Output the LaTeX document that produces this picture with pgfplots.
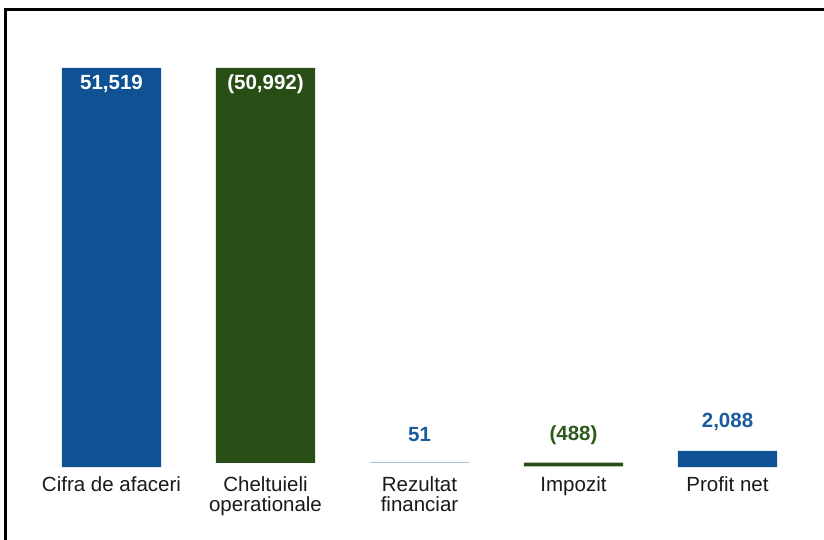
\documentclass[border=0pt]{standalone}
\usepackage{pgfplots}
\pgfplotsset{compat=1.18}
\usepackage{fontspec}
\setmainfont{Liberation Sans}
\definecolor{bluebar}{HTML}{0E5294}
\definecolor{greenbar}{HTML}{284E16}
\definecolor{bluetxt}{HTML}{1A5C9E}
\definecolor{greentxt}{HTML}{2E5A1C}
\pgfplotsset{
    wf base/.style={
        scale only axis,
        width=770pt, height=399pt,
        at={(34.5pt,72pt)}, anchor=south west,
        xmin=-0.5, xmax=4.5,
        ymin=0, ymax=51519,
        enlargelimits=false,
        clip=false,
    },
    val/.style={
        only marks, mark=*, mark size=0pt,
        nodes near coords,
        point meta=explicit symbolic,
        every node near coord/.append style={anchor=center, yshift=0pt,
            font=\fontsize{20.5}{21}\selectfont\bfseries, text=#1},
    },
}
\begin{document}
\begin{tikzpicture}[x=1pt, y=1pt]
\useasboundingbox (0,0) rectangle (824,539);
\draw[line width=2.8pt, black] (5.5,-5) -- (5.5,529.5) -- (830,529.5);

% bars: invisible base, then blue and green parts
\begin{axis}[
    wf base,
    ybar stacked,
    bar width=0.643,
    axis x line=bottom,
    axis y line=none,
    x axis line style={draw=none},
    major tick length=0pt,
    xtick={0,1,2,3,4},
    xticklabels={Cifra de afaceri, {Cheltuieli\\operationale}, {Rezultat\\financiar}, Impozit, Profit net},
    xticklabel style={align=center, font=\fontsize{20.5}{20.5}\selectfont, text=black!90, yshift=-6pt},
]
\addplot[draw=none, fill=none] coordinates {(0,0) (1,527) (2,527) (3,90) (4,0)};
\addplot[draw=none, fill=bluebar] coordinates {(0,51519) (1,0) (2,51) (3,0) (4,2088)};
\addplot[draw=none, fill=greenbar] coordinates {(0,0) (1,50992) (2,0) (3,488) (4,0)};
\end{axis}

% value labels
\begin{axis}[wf base, hide axis]
\addplot[val=white] coordinates {(0,49450) [51,519] (1,49450) [(50,992)]};
\addplot[val=bluetxt] coordinates {(2,4130) [51] (4,5875) [2,088]};
\addplot[val=greentxt] coordinates {(3,4070) [(488)]};
\end{axis}
\end{tikzpicture}
\end{document}
